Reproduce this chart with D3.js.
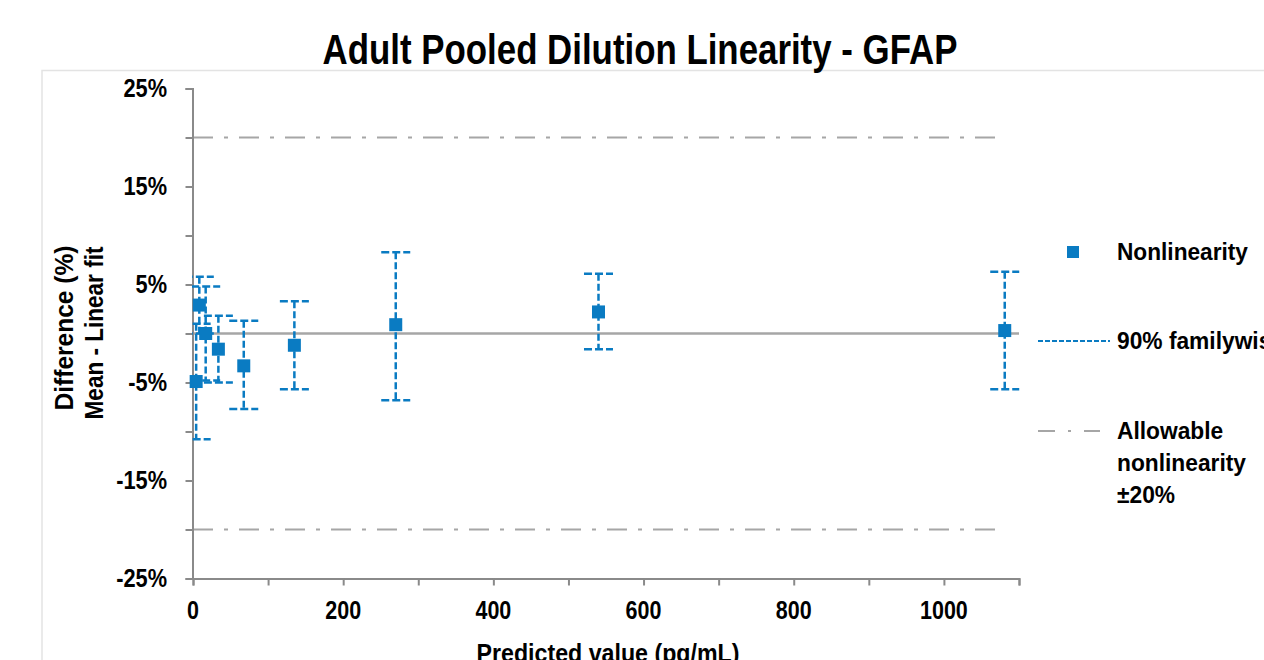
<!DOCTYPE html>
<html><head><meta charset="utf-8">
<script src="https://cdn.jsdelivr.net/npm/d3@7"></script>
<style>
html,body{margin:0;padding:0;background:#fff;overflow:hidden;}
text{font-family:'Liberation Sans Narrow','Arial Narrow','Liberation Sans',Arial,sans-serif;font-weight:bold;fill:#000;}
</style></head>
<body><svg id="c" width="1264" height="660"></svg>
<script>
const predicted = [4.2, 8.4, 16.9, 33.8, 67.6, 135, 270, 540, 1081];
const nonlinearity = [-4.9, 2.9, 0.0, -1.6, -3.3, -1.2, 0.9, 2.2, 0.3];
const ciLow = [-10.8, 0.0, -4.8, -5.0, -7.7, -5.7, -6.8, -1.6, -5.7];
const ciHigh = [1.0, 5.8, 4.8, 1.8, 1.3, 3.3, 8.3, 6.1, 6.3];
const allowable = 20;
const yTickValues = [-25, -20, -15, -10, -5, 0, 5, 10, 15, 20, 25];
const yLabelValues = [-25, -15, -5, 5, 15, 25];
const xTickValues = [0, 100, 200, 300, 400, 500, 600, 700, 800, 900, 1000, 1100];
const xLabelValues = [0, 200, 400, 600, 800, 1000];
const legendLabels = ["Nonlinearity", "90% familywise confidence interval", ["Allowable", "nonlinearity", "±20%"]];
const titleText = "Adult Pooled Dilution Linearity - GFAP";
const xTitle = "Predicted value (pg/mL)";
const yTitle = ["Difference (%)", "Mean - Linear fit"];

const svg = d3.select("#c");
const blue = "#0a7bc2", gray = "#a6a6a6", axisGray = "#8a8a8a";

// text helper: optional horizontal condensing factor
function T(parent, o) {
  const t = parent.append("text").attr("text-anchor", o.anchor || "start")
    .style("font-size", o.size + "px").text(o.text);
  let sx = o.sx || 1;
  if (o.width) sx = o.width / t.node().getComputedTextLength();
  t.attr("transform", `translate(${o.x},${o.y}) rotate(${o.rot || 0}) scale(${sx},1)`);
  return t;
}

const x = d3.scaleLinear().domain([0, 1100]).range([193, 1019]);
const y = d3.scaleLinear().domain([-25, 25]).range([578.5, 88.5]);

// chart border
svg.append("rect").attr("x", 42).attr("y", 70.5).attr("width", 1300).attr("height", 700)
  .attr("fill", "none").attr("stroke", "#e3e3e3").attr("stroke-width", 1.5);

// title
T(svg, { x: 640, y: 64, anchor: "middle", size: 42, text: titleText, width: 635 });

svg.append("clipPath").attr("id", "plotclip").append("rect")
  .attr("x", 192).attr("y", 60).attr("width", 840).attr("height", 540);

// zero line
svg.append("line").attr("x1", x(0)).attr("x2", x(1100)).attr("y1", y(0)).attr("y2", y(0))
  .attr("stroke", gray).attr("stroke-width", 2.5);

// allowable lines
[allowable, -allowable].forEach(v => {
  svg.append("line").attr("x1", x(0)).attr("x2", x(d3.max(predicted))).attr("y1", y(v)).attr("y2", y(v))
    .attr("stroke", gray).attr("stroke-width", 2).attr("stroke-dasharray", "20,11,4,11");
});

// axes
const yAxis = d3.axisLeft(y).tickValues(yTickValues).tickSize(7).tickFormat("");
const gy = svg.append("g").attr("transform", `translate(${x(0) - 0.5},0)`).call(yAxis);
const xAxis = d3.axisBottom(x).tickValues(xTickValues).tickSize(7).tickFormat("");
const gx = svg.append("g").attr("transform", `translate(0,${y(-25)})`).call(xAxis);
[gx, gy].forEach(g => {
  g.select(".domain").attr("stroke", axisGray).attr("stroke-width", 2);
  g.selectAll(".tick line").attr("stroke", axisGray).attr("stroke-width", 2);
});

// y labels
yLabelValues.forEach(d => T(svg, { x: 167, y: y(d) + 8.5, anchor: "end", size: 25, sx: 0.87, text: d + "%" }));
// x labels
xLabelValues.forEach(d => T(svg, { x: x(d), y: 619, anchor: "middle", size: 25, sx: 0.86, text: String(d) }));

// x title
T(svg, { x: 608, y: 662, anchor: "middle", size: 25, width: 263, text: xTitle });
// y title
T(svg, { x: 73, y: 328, anchor: "middle", size: 25, rot: -90, width: 165, text: yTitle[0] });
T(svg, { x: 103, y: 333, anchor: "middle", size: 25, rot: -90, width: 173, text: yTitle[1] });

// error bars
const data = predicted.map((p, i) => ({ p, v: nonlinearity[i], lo: ciLow[i], hi: ciHigh[i] }));
const eb = svg.append("g").attr("clip-path", "url(#plotclip)");
const capW = 14.5;
data.forEach(d => {
  const cx = x(d.p);
  eb.append("line").attr("x1", cx).attr("x2", cx).attr("y1", y(d.hi)).attr("y2", y(d.lo))
    .attr("stroke", blue).attr("stroke-width", 2.5).attr("stroke-dasharray", "7,3");
  [d.hi, d.lo].forEach(v => {
    eb.append("line").attr("x1", cx - capW).attr("x2", cx + capW).attr("y1", y(v)).attr("y2", y(v))
      .attr("stroke", blue).attr("stroke-width", 2.5).attr("stroke-dasharray", "8,3");
  });
});
// points
svg.append("g").selectAll("rect").data(data).enter().append("rect")
  .attr("x", d => x(d.p) - 6.5).attr("y", d => y(d.v) - 6.5).attr("width", 13).attr("height", 13)
  .attr("fill", blue);

// legend
const lg = svg.append("g");
lg.append("rect").attr("x", 1067).attr("y", 246).attr("width", 12).attr("height", 12).attr("fill", blue);
T(lg, { x: 1117, y: 260, size: 23, width: 131, text: legendLabels[0] });
lg.append("line").attr("x1", 1038).attr("x2", 1110).attr("y1", 341).attr("y2", 341)
  .attr("stroke", blue).attr("stroke-width", 2).attr("stroke-dasharray", "5,2");
T(lg, { x: 1117, y: 349, size: 23, sx: 0.99, text: legendLabels[1] });
lg.append("line").attr("x1", 1038).attr("x2", 1100).attr("y1", 431).attr("y2", 431)
  .attr("stroke", gray).attr("stroke-width", 2).attr("stroke-dasharray", "17,13,3,13");
legendLabels[2].forEach((t, i) => {
  T(lg, { x: 1117, y: 439 + i * 32, size: 23, sx: 0.99, text: t });
});
</script></body></html>
